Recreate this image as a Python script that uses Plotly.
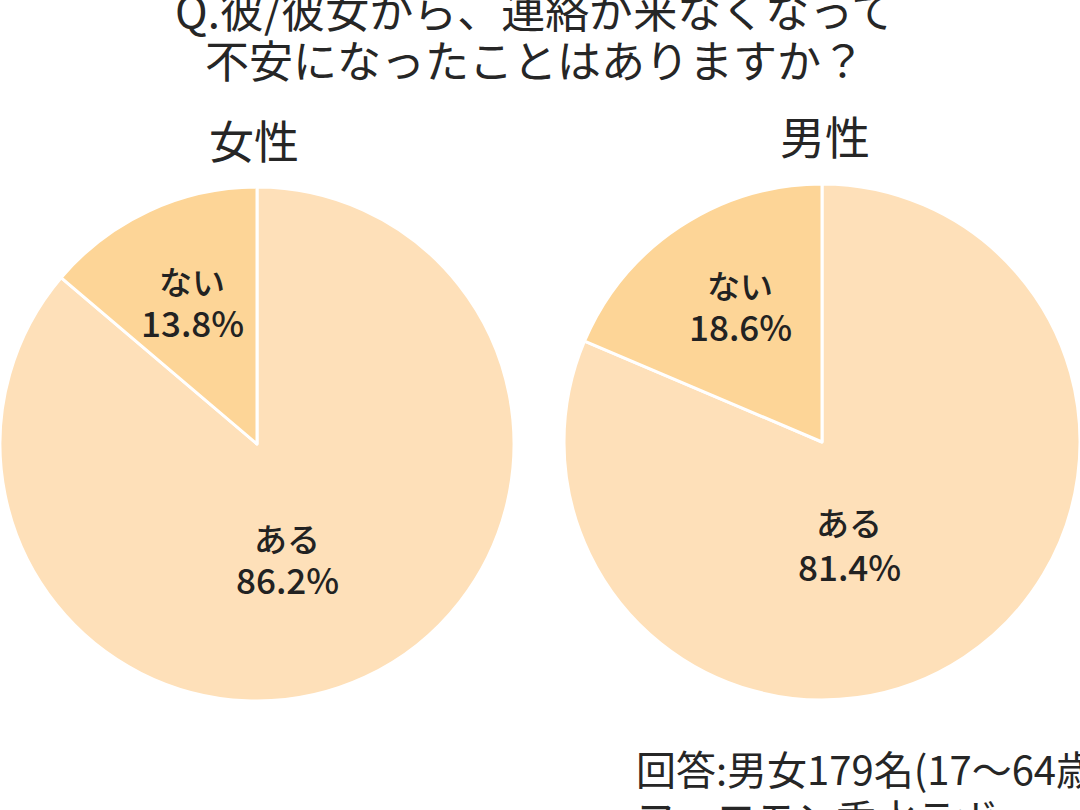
import plotly.graph_objects as go

# データ
TITLE_LINES = ["Q.彼/彼女から、連絡が来なくなって", "不安になったことはありますか？"]
GROUPS = ["女性", "男性"]
ANSWERS = ["ある", "ない"]
FEMALE = [86.2, 13.8]
MALE = [81.4, 18.6]
FOOTER = ["回答:男女179名(17〜64歳)", "フェロモン香水ラボ"]

COLORS = ["#FEE0B9", "#FDD597"]
FONT = "Noto Sans CJK JP"
W, H = 1080, 810

fig = go.Figure()

# 円グラフ (ピクセル中心と半径 -> domain)
pies = [
    (GROUPS[0], FEMALE, (256, 444, 258)),
    (GROUPS[1], MALE, (822, 442, 258)),
]
for name, vals, (cx, cy, r) in pies:
    fig.add_trace(go.Pie(
        labels=ANSWERS,
        values=vals,
        name=name,
        sort=False,
        direction="clockwise",
        rotation=0,
        textinfo="none",
        hoverinfo="label+percent",
        marker=dict(colors=COLORS, line=dict(color="white", width=3)),
        domain=dict(x=[max(0, (cx - r) / W), min(1, (cx + r) / W)],
                    y=[1 - (cy + r + 2) / H, 1 - (cy - r - 2) / H]),
        showlegend=False,
    ))

annotations = []


def add_text(txt, px_, py, size, color="#262626", xanchor="center", weight=None):
    f = dict(family=FONT, size=size, color=color)
    if weight:
        f["weight"] = weight
    annotations.append(dict(text=txt, x=px_ / W, y=1 - py / H, xref="paper", yref="paper",
                            xanchor=xanchor, yanchor="middle", showarrow=False, font=f))


# タイトル
for txt, py in zip(TITLE_LINES, [9, 59]):
    add_text(txt, 535, py, 44)

# 女性 / 男性
for g, (px_, py) in zip(GROUPS, [(254, 139), (825, 136)]):
    add_text(g, px_, py, 45)

# スライスのラベル
label_pos = [
    [(287, 540, 580), (192, 283, 323)],
    [(849, 524, 567), (740, 287, 327)],
]
for vals, pos in zip([FEMALE, MALE], label_pos):
    for ans, v, (px_, py1, py2) in zip(ANSWERS, vals, pos):
        add_text(ans, px_, py1 - 2, 33, "#222222", weight=500)
        add_text(f"{v:.1f}%", px_, py2 - 2, 35, "#222222", weight=500)

# 注記
add_text(FOOTER[0], 634, 768, 40, xanchor="left")
add_text(FOOTER[1], 634, 817, 40, xanchor="left")

fig.update_layout(
    width=W, height=H,
    margin=dict(l=0, r=0, t=0, b=0),
    paper_bgcolor="white",
    plot_bgcolor="white",
    annotations=annotations,
)

# ページ余白をなくす
fig.write_html("out.html", config={"displayModeBar": False},
               post_script="document.body.style.margin='0px';")
